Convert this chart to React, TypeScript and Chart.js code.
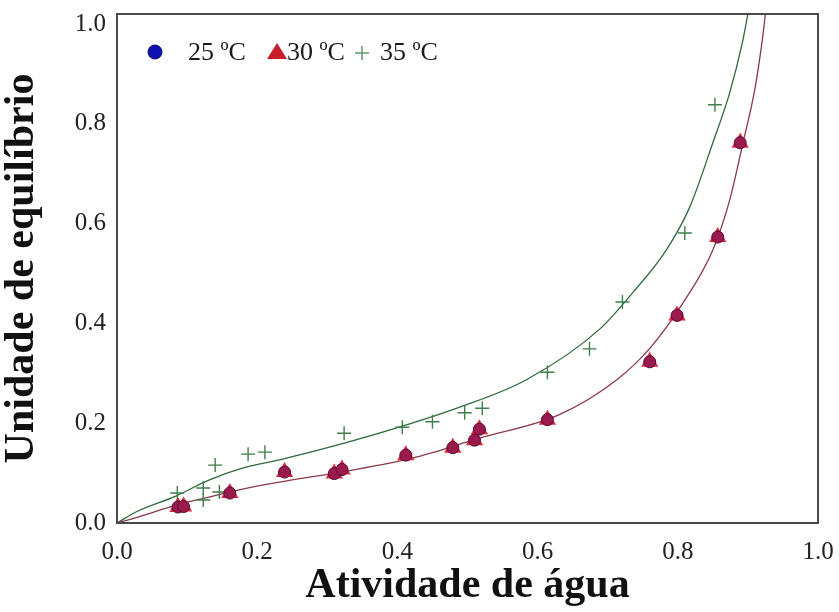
import React, { useEffect, useRef } from "react";
import { Chart, registerables } from "chart.js";

Chart.register(...registerables);

// Observed data (water activity vs equilibrium moisture)
const aw25 = [0.087, 0.095, 0.161, 0.239, 0.31, 0.321, 0.412, 0.479, 0.51, 0.517, 0.614, 0.76, 0.799, 0.857, 0.889];
const ue25 = [0.032, 0.033, 0.06, 0.102, 0.099, 0.107, 0.136, 0.151, 0.166, 0.188, 0.207, 0.323, 0.416, 0.573, 0.762];

const aw30 = [0.087, 0.095, 0.161, 0.239, 0.31, 0.321, 0.412, 0.479, 0.51, 0.517, 0.614, 0.76, 0.799, 0.857, 0.889];
const ue30 = [0.032, 0.033, 0.06, 0.102, 0.099, 0.107, 0.136, 0.151, 0.166, 0.188, 0.207, 0.323, 0.416, 0.573, 0.762];

const aw35 = [0.086, 0.123, 0.123, 0.146, 0.14, 0.187, 0.211, 0.324, 0.407, 0.45, 0.496, 0.521, 0.614, 0.674, 0.721, 0.81, 0.853];
const ue35 = [0.06, 0.07, 0.046, 0.062, 0.116, 0.138, 0.142, 0.18, 0.192, 0.203, 0.221, 0.23, 0.302, 0.349, 0.443, 0.581, 0.838];

// Fitted curves
const fitAwLow = [0, 0.03, 0.084, 0.131, 0.179, 0.236, 0.327, 0.421, 0.517, 0.631, 0.713, 0.76, 0.807, 0.85, 0.874, 0.893, 0.91, 0.92, 0.925];
const fitUeLow = [0, 0.012, 0.036, 0.052, 0.068, 0.083, 0.104, 0.13, 0.17, 0.217, 0.287, 0.35, 0.44, 0.547, 0.647, 0.762, 0.87, 0.962, 1.02];

const fitAw35 = [0, 0.03, 0.084, 0.131, 0.179, 0.236, 0.327, 0.421, 0.489, 0.584, 0.689, 0.736, 0.784, 0.817, 0.85, 0.874, 0.892, 0.9];
const fitUe35 = [0, 0.024, 0.054, 0.086, 0.11, 0.128, 0.161, 0.2, 0.232, 0.287, 0.389, 0.462, 0.548, 0.633, 0.762, 0.862, 0.962, 1.02];

const tickValues = [0, 0.2, 0.4, 0.6, 0.8, 1.0];
const legendLabels = ["25 ºC", "30 ºC", "35 ºC"];
const xTitle = "Atividade de água";
const yTitle = "Unidade de equilíbrio";

const pts = (xs: number[], ys: number[]) => xs.map((x, i) => ({ x, y: ys[i] }));

const SERIF = "'Liberation Serif', 'Times New Roman', serif";

const frameAndLegend = {
  id: "frameAndLegend",
  afterDatasetsDraw(chart: any) {
    const { ctx, chartArea } = chart;
    const { left, top, right, bottom } = chartArea;
    ctx.save();
    ctx.strokeStyle = "#4a4a4a";
    ctx.lineWidth = 2;
    ctx.strokeRect(left, top, right - left, bottom - top);

    // legend
    const y = top + 38;
    ctx.font = `26px ${SERIF}`;
    ctx.textBaseline = "middle";
    ctx.textAlign = "left";
    // circle
    ctx.beginPath();
    ctx.arc(left + 38, y, 7, 0, Math.PI * 2);
    ctx.fillStyle = "#1010b0";
    ctx.fill();
    ctx.strokeStyle = "#0a0a60";
    ctx.lineWidth = 1;
    ctx.stroke();
    ctx.fillStyle = "#1a1a1a";
    ctx.fillText(legendLabels[0], left + 71, y + 1);
    // triangle
    const tx = left + 160;
    ctx.beginPath();
    ctx.moveTo(tx, y - 9);
    ctx.lineTo(tx + 10, y + 7);
    ctx.lineTo(tx - 10, y + 7);
    ctx.closePath();
    ctx.fillStyle = "#c81e28";
    ctx.fill();
    ctx.fillStyle = "#1a1a1a";
    ctx.fillText(legendLabels[1], left + 170, y + 1);
    // plus
    const px = left + 245;
    ctx.beginPath();
    ctx.moveTo(px - 7, y + 1);
    ctx.lineTo(px + 7, y + 1);
    ctx.moveTo(px, y - 6);
    ctx.lineTo(px, y + 8);
    ctx.strokeStyle = "#5a9a6a";
    ctx.lineWidth = 1.5;
    ctx.stroke();
    ctx.fillStyle = "#1a1a1a";
    ctx.fillText(legendLabels[2], left + 263, y + 1);
    ctx.restore();
  },
};

export default function App() {
  const canvasRef = useRef<HTMLCanvasElement | null>(null);

  useEffect(() => {
    if (!canvasRef.current) return;
    const chart = new Chart(canvasRef.current, {
      type: "scatter",
      data: {
        datasets: [
          {
            label: legendLabels[1],
            data: pts(aw30, ue30),
            pointStyle: "triangle",
            pointRadius: 10,
            backgroundColor: "#e0283c",
            borderColor: "#e0283c",
            borderWidth: 0,
            order: 2,
          },
          {
            label: legendLabels[0],
            data: pts(aw25, ue25),
            pointStyle: "circle",
            pointRadius: 6,
            backgroundColor: "#9a1a4c",
            borderColor: "#5a0838",
            borderWidth: 1,
            order: 1,
          },
          {
            label: legendLabels[2],
            data: pts(aw35, ue35),
            pointStyle: "cross",
            pointRadius: 7,
            backgroundColor: "#3f7f4a",
            borderColor: "#3f7f4a",
            borderWidth: 1.4,
            order: 3,
          },
          {
            label: "fit 25-30",
            type: "line",
            data: pts(fitAwLow, fitUeLow),
            borderColor: "#8a3a4a",
            borderWidth: 1.3,
            pointRadius: 0,
            cubicInterpolationMode: "monotone",
            fill: false,
            order: 4,
          },
          {
            label: "fit 35",
            type: "line",
            data: pts(fitAw35, fitUe35),
            borderColor: "#2f6a3c",
            borderWidth: 1.3,
            pointRadius: 0,
            cubicInterpolationMode: "monotone",
            fill: false,
            order: 5,
          },
        ] as any,
      },
      options: {
        animation: false,
        responsive: true,
        maintainAspectRatio: false,
        layout: { padding: { left: 0, top: 14, right: 21, bottom: 0 } },
        plugins: {
          legend: { display: false },
          tooltip: { enabled: false },
        },
        scales: {
          x: {
            type: "linear",
            min: 0,
            max: 1,
            grid: { display: false, drawTicks: false },
            border: { display: false },
            afterBuildTicks: (scale: any) => {
              scale.ticks = tickValues.map((v) => ({ value: v }));
            },
            afterFit: (scale: any) => {
              scale.height = 89;
              scale.paddingLeft = 0;
              scale.paddingRight = 0;
            },
            ticks: {
              padding: 14,
              color: "#222",
              font: { family: SERIF, size: 25 },
              maxRotation: 0,
              callback: (v: any) => Number(v).toFixed(1),
            },
            title: {
              display: true,
              text: xTitle,
              color: "#111",
              font: { family: SERIF, size: 42, weight: "bold" },
              padding: { top: 0, bottom: 1 },
            },
          },
          y: {
            type: "linear",
            min: 0,
            max: 1.02,
            grid: { display: false, drawTicks: false },
            border: { display: false },
            afterBuildTicks: (scale: any) => {
              scale.ticks = tickValues.map((v) => ({ value: v }));
            },
            afterFit: (scale: any) => {
              scale.width = 117;
              scale.paddingTop = 0;
              scale.paddingBottom = 0;
            },
            ticks: {
              padding: 11,
              color: "#222",
              font: { family: SERIF, size: 25 },
              callback: (v: any) => Number(v).toFixed(1),
            },
            title: {
              display: true,
              text: yTitle,
              color: "#111",
              font: { family: SERIF, size: 42, weight: "bold" },
              padding: { top: -3, bottom: 0 },
            },
          },
        },
      } as any,
      plugins: [frameAndLegend],
    });
    return () => chart.destroy();
  }, []);

  return (
    <div style={{ position: "fixed", left: 0, top: 0, width: 839, height: 612, background: "#fff" }}>
      <canvas ref={canvasRef} style={{ display: "block" }} />
    </div>
  );
}
